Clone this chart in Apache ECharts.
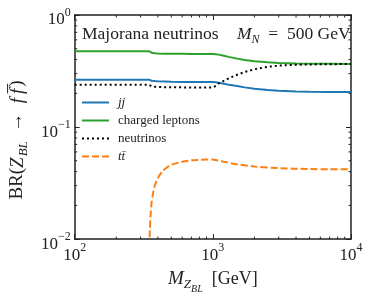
<!DOCTYPE html>
<html><head><meta charset="utf-8">
<script src="https://cdn.jsdelivr.net/npm/echarts@6/dist/echarts.min.js"></script>
<style>html,body{margin:0;padding:0;background:#fff}#c{width:374px;height:299px}</style>
</head><body><div id="c"></div>
<script>
// Z_BL mass (GeV) grid for the light channels
const mass = [100, 200, 300, 345, 347, 350, 355, 360, 370, 380, 400, 450, 500, 600, 700, 800, 1000, 1050, 1100, 1200, 1300, 1500, 1700, 2000, 2500, 3000, 4000, 5000, 7000, 10000];
const jj = [0.265, 0.265, 0.265, 0.265, 0.264, 0.262, 0.260, 0.259, 0.258, 0.257, 0.256, 0.255, 0.254, 0.253, 0.253, 0.252, 0.252, 0.251, 0.248, 0.244, 0.239, 0.232, 0.226, 0.220, 0.214, 0.211, 0.208, 0.207, 0.206, 0.205];
const leptons = [0.475, 0.475, 0.475, 0.475, 0.473, 0.468, 0.463, 0.461, 0.458, 0.456, 0.454, 0.452, 0.451, 0.450, 0.449, 0.449, 0.448, 0.447, 0.443, 0.433, 0.423, 0.408, 0.397, 0.387, 0.378, 0.373, 0.370, 0.368, 0.367, 0.366];
const neutrinos = [0.239, 0.239, 0.239, 0.239, 0.238, 0.236, 0.233, 0.231, 0.230, 0.229, 0.228, 0.227, 0.226, 0.226, 0.225, 0.225, 0.226, 0.233, 0.245, 0.258, 0.272, 0.293, 0.310, 0.328, 0.345, 0.353, 0.360, 0.362, 0.364, 0.365];
// top channel opens at 2 m_t
const topMass = [346, 347, 350, 355, 360, 370, 380, 400, 430, 470, 500, 600, 700, 800, 900, 1000, 1100, 1200, 1500, 2000, 3000, 5000, 7000, 10000];
const topBR = [0.002, 0.008, 0.012, 0.017, 0.021, 0.026, 0.030, 0.035, 0.040, 0.044, 0.046, 0.049, 0.0505, 0.051, 0.0513, 0.0513, 0.050, 0.049, 0.0465, 0.0445, 0.043, 0.0422, 0.042, 0.042];

const xMinorTicks = [200, 300, 400, 500, 600, 700, 800, 900, 2000, 3000, 4000, 5000, 6000, 7000, 8000, 9000];
const yMinorTicks = [0.02, 0.03, 0.04, 0.05, 0.06, 0.07, 0.08, 0.09, 0.2, 0.3, 0.4, 0.5, 0.6, 0.7, 0.8, 0.9];

const SERIF = '"Liberation Serif", "Times New Roman", serif';
const AX = '#222';

function zip(xs, ys) { return xs.map((x, i) => [x, ys[i]]); }
function supLabel(v) {
  const e = Math.round(Math.log10(v));
  return '{b|10}{s|' + (e < 0 ? '\u2212' + (-e) : e) + '}';
}
const supRich = {
  b: { fontSize: 17, fontFamily: SERIF, color: '#222', lineHeight: 17, verticalAlign: 'top', padding: [5, 0, 0, 0] },
  s: { fontSize: 12, fontFamily: SERIF, color: '#222', lineHeight: 12, verticalAlign: 'top', padding: [0, 0, 0, 0] }
};

const minorData = xMinorTicks.map(v => [v, 0.01, 0]).concat(yMinorTicks.map(v => [100, v, 1]));

const chart = echarts.init(document.getElementById('c'), null, { renderer: 'canvas' });

const baseAxis = {
  type: 'log', logBase: 10,
  axisLine: { show: true, onZero: false, lineStyle: { color: AX, width: 1.5 } },
  axisTick: { show: true, inside: true, length: 5, lineStyle: { color: AX, width: 1 } },
  splitLine: { show: false },
  minorTick: { show: false }
};

chart.setOption({
  animation: false,
  backgroundColor: '#fff',
  grid: { left: 71, right: 23, top: 15, bottom: 55, containLabel: false },
  xAxis: [
    Object.assign({}, baseAxis, {
      min: 100, max: 10000, position: 'bottom',
      axisLabel: { show: true, margin: 3, formatter: supLabel, rich: supRich },
      name: '{i|M}{z|Z}{bl|BL}{r|  [GeV]}',
      nameLocation: 'middle', nameGap: 19,
      nameTextStyle: {
        rich: {
          i: { fontSize: 19, fontFamily: SERIF, fontStyle: 'italic', color: '#222', lineHeight: 19, verticalAlign: 'top', padding: [0, 0, 0, 0] },
          z: { fontSize: 13, fontFamily: SERIF, fontStyle: 'italic', color: '#222', lineHeight: 13, verticalAlign: 'top', padding: [9, 0, 0, 0] },
          bl: { fontSize: 10, fontFamily: SERIF, fontStyle: 'italic', color: '#222', lineHeight: 10, verticalAlign: 'top', padding: [15, 0, 0, 0] },
          r: { fontSize: 18, fontFamily: SERIF, color: '#222', lineHeight: 18, verticalAlign: 'top', padding: [1, 0, 0, 0] }
        }
      }
    }),
    Object.assign({}, baseAxis, {
      min: 100, max: 10000, position: 'top',
      axisLabel: { show: false }
    })
  ],
  yAxis: [
    Object.assign({}, baseAxis, {
      min: 0.01, max: 1, position: 'left',
      axisLabel: { show: true, margin: 4, formatter: supLabel, rich: supRich },
      name: '{r|BR(}{i|Z}{sub|BL}{r|\u2002\u2192\u2002}{i|f\u2009f\u0305}{e|)}',
      nameLocation: 'middle', nameGap: 38,
      nameTextStyle: {
        rich: {
          r: { fontSize: 19, fontFamily: SERIF, color: '#222', lineHeight: 19, verticalAlign: 'top', padding: [0, 0, 0, 0] },
          e: { fontSize: 19, fontFamily: SERIF, color: '#222', lineHeight: 19, verticalAlign: 'top', padding: [0, 26, 0, 2] },
          i: { fontSize: 19, fontFamily: SERIF, fontStyle: 'italic', color: '#222', lineHeight: 19, verticalAlign: 'top', padding: [0, 0, 0, 0] },
          sub: { fontSize: 13, fontFamily: SERIF, fontStyle: 'italic', color: '#222', lineHeight: 13, verticalAlign: 'top', padding: [9, 0, 0, 1] }
        }
      }
    }),
    Object.assign({}, baseAxis, {
      min: 0.01, max: 1, position: 'right',
      axisLabel: { show: false }
    })
  ],
  legend: {
    orient: 'vertical', left: 81, top: 96, padding: 0,
    itemWidth: 27, itemHeight: 12, itemGap: 5,
    itemStyle: { opacity: 0 },
    data: ['jj', 'charged leptons', 'neutrinos', 'tt'],
    formatter: function (name) {
      if (name === 'jj') return '{i|jj}';
      if (name === 'tt') return '{i|tt\u0304}';
      return '{r|' + name + '}';
    },
    textStyle: {
      rich: {
        i: { fontSize: 13, fontFamily: SERIF, fontStyle: 'italic', color: '#222', padding: [0, 0, 0, 4] },
        r: { fontSize: 13, fontFamily: SERIF, color: '#222', padding: [0, 0, 0, 4] }
      }
    }
  },
  graphic: [
    { type: 'text', left: 82, top: 25, style: { text: 'Majorana neutrinos', font: '17.5px ' + SERIF, fill: '#222' } },
    { type: 'text', left: 237, top: 25, style: {
        text: '{i|M}{s|N}{r|\u2002=\u2002500 GeV}',
        rich: {
          i: { fontSize: 17.5, fontFamily: SERIF, fontStyle: 'italic', fill: '#222', lineHeight: 18, verticalAlign: 'top', padding: [0, 0, 0, 0] },
          s: { fontSize: 12, fontFamily: SERIF, fontStyle: 'italic', fill: '#222', lineHeight: 12, verticalAlign: 'top', padding: [9, 0, 0, 0] },
          r: { fontSize: 17.5, fontFamily: SERIF, fill: '#222', lineHeight: 18, verticalAlign: 'top', padding: [0, 0, 0, 0] }
        }
      } }
  ],
  series: [
    { name: 'jj', type: 'line', data: zip(mass, jj), showSymbol: false, symbol: 'none', clip: true,
      lineStyle: { color: '#1f77b4', width: 2 }, itemStyle: { color: '#1f77b4' } },
    { name: 'charged leptons', type: 'line', data: zip(mass, leptons), showSymbol: false, symbol: 'none', clip: true,
      lineStyle: { color: '#2ca02c', width: 2 }, itemStyle: { color: '#2ca02c' } },
    { name: 'neutrinos', type: 'line', data: zip(mass, neutrinos), showSymbol: false, symbol: 'none', clip: true,
      lineStyle: { color: '#000', width: 2, type: [2, 3] }, itemStyle: { color: '#000' } },
    { name: 'tt', type: 'line', data: zip(topMass, topBR), showSymbol: false, symbol: 'none', clip: true, smooth: 0.3,
      lineStyle: { color: '#ff7f0e', width: 2, type: [7, 3] }, itemStyle: { color: '#ff7f0e' } },
    { name: 'minor', type: 'custom', data: minorData, clip: false, silent: true,
      renderItem: function (params, api) {
        const kind = api.value(2);
        const p = api.coord([api.value(0), api.value(1)]);
        const cs = params.coordSys;
        const L = 2.5;
        const st = { stroke: AX, lineWidth: 1 };
        if (kind === 0) {
          const yb = cs.y + cs.height, yt = cs.y;
          return { type: 'group', children: [
            { type: 'line', shape: { x1: p[0], y1: yb, x2: p[0], y2: yb - L }, style: st },
            { type: 'line', shape: { x1: p[0], y1: yt, x2: p[0], y2: yt + L }, style: st }
          ] };
        }
        const xl = cs.x, xr = cs.x + cs.width;
        return { type: 'group', children: [
          { type: 'line', shape: { x1: xl, y1: p[1], x2: xl + L, y2: p[1] }, style: st },
          { type: 'line', shape: { x1: xr, y1: p[1], x2: xr - L, y2: p[1] }, style: st }
        ] };
      }
    }
  ]
});
</script></body></html>
